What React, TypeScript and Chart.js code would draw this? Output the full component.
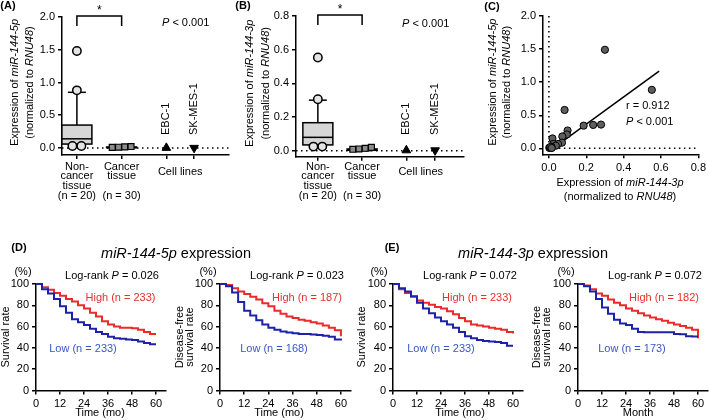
import React, { useEffect, useRef } from 'react';
import { Chart, registerables } from 'chart.js';
Chart.register(...registerables);

const FONT = '"Liberation Sans", Arial, Helvetica, sans-serif';

// ---------------- data ----------------
// box statistics: [lower whisker, Q1, median, Q3, upper whisker]
const nonCancer5pBox = [0.04, 0.06, 0.14, 0.35, 0.85];
const nonCancer5pOutliers = [1.48, 0.88, 0.03, 0.03];
const cancer5pBox = [0.0, 0.004, 0.008, 0.015, 0.025];
const cancer5pPoints = [0.01, 0.012, 0.016, 0.022];
const cellLine5p = [0.002, 0.002];
const yTicks5p = [0, 0.5, 1, 1.5, 2];

const nonCancer3pBox = [0.028, 0.034, 0.079, 0.166, 0.3];
const nonCancer3pOutliers = [0.553, 0.305, 0.024, 0.024];
const cancer3pBox = [0.0, 0.002, 0.005, 0.01, 0.015];
const cancer3pPoints = [0.008, 0.01, 0.014, 0.02];
const cellLine3p = [0.002, 0.002];
const yTicks3p = [0, 0.2, 0.4, 0.6, 0.8];

const tissueLabelLines = [
  ['Non-', 'cancer', 'tissue', '(n = 20)'],
  ['Cancer', 'tissue', '', '(n = 30)'],
];
const cellLineNames = ['EBC-1', 'SK-MES-1'];
const cellLinesLabel = 'Cell lines';
const groupPValue = '< 0.001';

// correlation (C)
const corrX3p = [0.3, 0.551, 0.084, 0.186, 0.237, 0.279, 0.1, 0.096, 0.072, 0.07, 0.049, 0.019, 0.023, 0.002, 0.037, 0.014, 0.005, 0.01, 0.008, 0.015];
const corrY5p = [1.49, 0.884, 0.58, 0.343, 0.354, 0.359, 0.27, 0.21, 0.18, 0.086, 0.066, 0.15, 0.066, 0.01, 0.04, 0.025, 0.005, 0.01, 0.02, 0.005];
const corrR = '0.912';
const corrP = '< 0.001';
const regSlope = 2.05;
const regIntercept = -0.044;
const regRangeX = [0.02, 0.59];
const xTicksCorr = [0, 0.2, 0.4, 0.6, 0.8];

// Kaplan-Meier (D, E)
const kmMonths = [0, 3, 6, 9, 12, 15, 18, 21, 24, 27, 30, 33, 36, 39, 42, 45, 48, 51, 54, 57, 60];
const dOsHigh = [100, 97, 94.5, 91.5, 89, 86, 83.5, 80, 77, 73, 69.5, 65, 62, 60, 59, 59, 58.5, 57, 55, 53, 53];
const dOsLow = [100, 95, 91, 86, 79, 73, 67, 64, 61.5, 58, 55, 53, 50.5, 49, 48.5, 48, 47.5, 46, 44.5, 43.5, 43.5];
const dDfsHigh = [100, 99, 96, 93, 90.5, 88, 85.5, 82, 79, 75, 72, 69.5, 68, 66.5, 65.5, 64, 63, 61, 59, 56.5, 51];
const dDfsLow = [100, 98, 92, 83, 75, 70.5, 66, 62, 59, 57, 55.5, 54.5, 53.8, 53, 53, 52.5, 52, 51.5, 50.5, 48, 47];
const eOsHigh = [100, 95, 91.5, 88, 84.5, 82.5, 80.5, 78.5, 77, 74.5, 71.5, 68, 65, 62, 61, 60, 59, 58, 57, 55, 53.5];
const eOsLow = [100, 96, 93, 88.5, 82.5, 77, 72.5, 68.5, 65, 62, 59, 55, 51, 49, 47.5, 46.5, 46, 45.5, 44.5, 42, 42];
const eDfsHigh = [100, 98.5, 95, 91, 89, 85.5, 82.5, 80, 77, 75, 72.5, 70.5, 68.5, 67, 65.5, 63.5, 62, 60.5, 59, 57, 49];
const eDfsLow = [100, 98, 93, 86, 78, 72, 66.5, 63, 61.5, 58, 55, 54.7, 54.7, 54.7, 54.7, 54.7, 53, 52.8, 51, 50.6, 50.6];
const kmLogRankP = ['0.026', '0.023', '0.072', '0.072'];
const kmHighN = [233, 187, 233, 182];
const kmLowN = [233, 168, 233, 173];
const kmXTicks = [0, 12, 24, 36, 48, 60];
const kmYTicks = [0, 20, 40, 60, 80, 100];

// ---------------- styling ----------------
const RED = '#ec2a2a';
const BLUE = '#1d22a8';
const RED_TEXT = '#e5302c';
const BLUE_TEXT = '#3657c6';

type Seg = [string, boolean];

function drawRich(ctx: any, segs: Seg[], x: number, y: number, o: any = {}) {
  const size = o.size ?? 11;
  ctx.save();
  ctx.translate(x, y);
  if (o.rotate) ctx.rotate(-Math.PI / 2);
  ctx.textBaseline = 'middle';
  ctx.textAlign = 'left';
  ctx.fillStyle = o.color ?? '#000';
  const font = (it: boolean) => `${it ? 'italic ' : ''}${o.bold ? 'bold ' : ''}${size}px ${FONT}`;
  let total = 0;
  const widths = segs.map(([t, it]) => {
    ctx.font = font(it);
    const w = ctx.measureText(t).width;
    total += w;
    return w;
  });
  let cx = o.align === 'center' ? -total / 2 : o.align === 'right' ? -total : 0;
  segs.forEach(([t, it], i) => {
    ctx.font = font(it);
    ctx.fillText(t, cx, 0);
    cx += widths[i];
  });
  ctx.restore();
}

function axis(min: number, max: number, vals: number[], fit: (s: any) => void, fmt?: (v: any) => string, showLabels = true) {
  return {
    type: 'linear',
    min,
    max,
    bounds: 'data',
    border: { display: true, color: '#000', width: 1.5 },
    grid: { display: true, drawOnChartArea: false, drawTicks: true, tickLength: 4, color: '#000', lineWidth: 1.5 },
    ticks: {
      display: showLabels,
      color: '#000',
      font: { family: FONT, size: 11 },
      padding: 3,
      autoSkip: false,
      maxRotation: 0,
      callback: fmt ?? ((v: any) => String(v)),
    },
    afterBuildTicks: (s: any) => {
      s.ticks = vals.map((v) => ({ value: v }));
    },
    afterFit: fit,
  };
}

function spreadOffsets(vals: number[], tol: number, spacing: number) {
  const offs = new Array(vals.length).fill(0);
  const used = new Array(vals.length).fill(false);
  for (let i = 0; i < vals.length; i++) {
    if (used[i]) continue;
    const cl = [i];
    used[i] = true;
    for (let j = i + 1; j < vals.length; j++) {
      if (!used[j] && Math.abs(vals[j] - vals[i]) <= tol) {
        cl.push(j);
        used[j] = true;
      }
    }
    cl.forEach((k, idx) => {
      offs[k] = (idx - (cl.length - 1) / 2) * spacing;
    });
  }
  return offs;
}

function line(ctx: any, x1: number, y1: number, x2: number, y2: number) {
  ctx.beginPath();
  ctx.moveTo(x1, y1);
  ctx.lineTo(x2, y2);
  ctx.stroke();
}

const baseOptions = {
  animation: false,
  responsive: false,
  events: [],
};

function boxChartConfig(p: any) {
  const catX = p.catX;
  const tol = (p.yMax - p.yMin) * 0.02;
  const o1 = spreadOffsets(p.outliers, tol, 0.2);
  const o2 = spreadOffsets(p.points, tol, 0.14);
  const ptBase = { clip: false, showLine: false, pointBorderColor: '#000', pointBorderWidth: 1.5 };
  return {
    type: 'scatter',
    data: {
      datasets: [
        { ...ptBase, data: p.outliers.map((v: number, i: number) => ({ x: catX[0] + o1[i], y: v })), pointStyle: 'circle', pointRadius: 4.2, pointBackgroundColor: '#e4e4e4' },
        { ...ptBase, data: p.points.map((v: number, i: number) => ({ x: catX[1] + o2[i], y: v })), pointStyle: 'rect', pointRadius: 4.2, pointBorderWidth: 1.2, pointBackgroundColor: '#8c8c8c' },
        { ...ptBase, data: [{ x: catX[2], y: p.cells[0] }], pointStyle: 'triangle', pointRadius: 5, pointBorderWidth: 1, pointBackgroundColor: '#000' },
        { ...ptBase, data: [{ x: catX[3], y: p.cells[1] }], pointStyle: 'triangle', pointRotation: 180, pointRadius: 5, pointBorderWidth: 1, pointBackgroundColor: '#000' },
      ],
    },
    options: {
      ...baseOptions,
      layout: { padding: { left: 0, top: p.padTop, right: p.padRight, bottom: 0 } },
      plugins: { legend: { display: false }, tooltip: { enabled: false } },
      scales: {
        x: axis(p.xMin, p.xMax, catX, (s: any) => { s.height = p.xAxisH; }, undefined, false),
        y: axis(p.yMin, p.yMax, p.yTicks, (s: any) => { s.width = p.yAxisW; }, (v: any) => Number(v).toFixed(1)),
      },
    },
    plugins: [
      {
        id: 'boxes',
        beforeDatasetsDraw(chart: any) {
          const { ctx, chartArea, scales } = chart;
          const x = scales.x;
          const y = scales.y;
          ctx.save();
          // dotted zero line
          ctx.strokeStyle = '#000';
          ctx.lineWidth = 1.5;
          ctx.setLineDash([1.5, 3.5]);
          line(ctx, chartArea.left, y.getPixelForValue(0), chartArea.right, y.getPixelForValue(0));
          ctx.setLineDash([]);
          [p.box1, p.box2].forEach((st: number[], gi: number) => {
            const cx = x.getPixelForValue(catX[gi]);
            const [lo, q1, med, q3, hi] = st.map((v) => y.getPixelForValue(v));
            ctx.lineWidth = 1.5;
            line(ctx, cx, q3, cx, hi);
            line(ctx, cx - 9, hi, cx + 9, hi);
            line(ctx, cx, q1, cx, lo);
            line(ctx, cx - 9, lo, cx + 9, lo);
            ctx.fillStyle = '#d6d6d6';
            ctx.fillRect(cx - 15, q3, 30, q1 - q3);
            ctx.strokeRect(cx - 15, q3, 30, q1 - q3);
            line(ctx, cx - 15, med, cx + 15, med);
          });
          ctx.restore();
        },
        afterDraw(chart: any) {
          const { ctx, chartArea, scales } = chart;
          const x = scales.x;
          const y = scales.y;
          drawRich(ctx, [[p.letter, false]], p.letterX, 6, { bold: true, align: 'center' });
          const cy = (chartArea.top + y.getPixelForValue(0)) / 2;
          drawRich(ctx, [['Expression of ', false], [p.gene, true]], p.titleX1, cy, { rotate: true, align: 'center' });
          drawRich(ctx, [['(normalized to ', false], ['RNU48', true], [')', false]], p.titleX2, cy, { rotate: true, align: 'center' });
          // significance bracket
          const bx1 = x.getPixelForValue(catX[0]);
          const bx2 = x.getPixelForValue(catX[1]);
          const top = chartArea.top - 1;
          ctx.save();
          ctx.strokeStyle = '#000';
          ctx.lineWidth = 1.5;
          ctx.beginPath();
          ctx.moveTo(bx1, top + 10);
          ctx.lineTo(bx1, top);
          ctx.lineTo(bx2, top);
          ctx.lineTo(bx2, top + 10);
          ctx.stroke();
          ctx.restore();
          drawRich(ctx, [['*', false]], (bx1 + bx2) / 2, top - 5, { align: 'center', size: 12 });
          drawRich(ctx, [['P', true], [' ' + groupPValue, false]], p.pX, p.pY, {});
          // category labels
          const lineYs = [166.5, 176, 185.5, 196];
          tissueLabelLines.forEach((lines, gi) => {
            const cx = x.getPixelForValue(catX[gi]);
            lines.forEach((t, li) => {
              if (t) drawRich(ctx, [[t, false]], cx, lineYs[li], { align: 'center' });
            });
          });
          const c1 = x.getPixelForValue(catX[2]);
          const c2 = x.getPixelForValue(catX[3]);
          drawRich(ctx, [[cellLinesLabel, false]], (c1 + c2) / 2, 171.5, { align: 'center' });
          drawRich(ctx, [[cellLineNames[0], false]], c1, 135, { rotate: true });
          drawRich(ctx, [[cellLineNames[1], false]], c2, 135, { rotate: true });
        },
      },
    ],
  };
}

const makeA = () =>
  boxChartConfig({
    box1: nonCancer5pBox, outliers: nonCancer5pOutliers, box2: cancer5pBox, points: cancer5pPoints, cells: cellLine5p,
    yTicks: yTicks5p, yMin: -0.107, yMax: 2, xMin: 0.667, xMax: 4.4, catX: [1, 2, 3, 3.62],
    yAxisW: 62, padTop: 17, padRight: 5, xAxisH: 50,
    gene: 'miR-144-5p', letter: '(A)', letterX: 8, titleX1: 15, titleX2: 30, pX: 162, pY: 23,
  });

const makeB = () =>
  boxChartConfig({
    box1: nonCancer3pBox, outliers: nonCancer3pOutliers, box2: cancer3pBox, points: cancer3pPoints, cells: cellLine3p,
    yTicks: yTicks3p, yMin: -0.036, yMax: 0.8, xMin: 0.506, xMax: 4.303, catX: [1, 2, 3, 3.65],
    yAxisW: 61, padTop: 16, padRight: 5, xAxisH: 48.3,
    gene: 'miR-144-3p', letter: '(B)', letterX: 8, titleX1: 15, titleX2: 31, pX: 167, pY: 24,
  });

const makeC = () => ({
  type: 'scatter',
  data: {
    datasets: [
      {
        data: corrX3p.map((v, i) => ({ x: v, y: corrY5p[i] })),
        pointRadius: 3.6,
        pointBackgroundColor: '#5e5e5e',
        pointBorderColor: '#000',
        pointBorderWidth: 1,
        clip: false,
      },
      {
        data: regRangeX.map((v) => ({ x: v, y: regIntercept + regSlope * v })),
        showLine: true,
        pointRadius: 0,
        borderColor: '#000',
        borderWidth: 1.5,
        clip: false,
      },
    ],
  },
  options: {
    ...baseOptions,
    layout: { padding: { left: 0, top: 16, right: 8, bottom: 0 } },
    plugins: { legend: { display: false }, tooltip: { enabled: false } },
    scales: {
      x: axis(-0.0316, 0.8, xTicksCorr, (s: any) => { s.height = 50.7; }, (v: any) => Number(v).toFixed(1)),
      y: axis(-0.09, 2, yTicks5p, (s: any) => { s.width = 73; }, (v: any) => Number(v).toFixed(1)),
    },
  },
  plugins: [
    {
      id: 'corrDeco',
      beforeDatasetsDraw(chart: any) {
        const { ctx, chartArea, scales } = chart;
        const x0 = scales.x.getPixelForValue(0);
        const y0 = scales.y.getPixelForValue(0);
        ctx.save();
        ctx.strokeStyle = '#000';
        ctx.lineWidth = 1.5;
        ctx.setLineDash([1.5, 3.5]);
        line(ctx, x0, chartArea.top, x0, y0);
        line(ctx, x0, y0, chartArea.right, y0);
        ctx.restore();
      },
      afterDraw(chart: any) {
        const { ctx, chartArea, scales } = chart;
        drawRich(ctx, [['(C)', false]], 22, 7, { bold: true, align: 'center' });
        const cy = (chartArea.top + scales.y.getPixelForValue(0)) / 2;
        drawRich(ctx, [['Expression of ', false], ['miR-144-5p', true]], 23, cy, { rotate: true, align: 'center' });
        drawRich(ctx, [['(normalized to ', false], ['RNU48', true], [')', false]], 37, cy, { rotate: true, align: 'center' });
        drawRich(ctx, [['r = ' + corrR, false]], 156, 106, {});
        drawRich(ctx, [['P', true], [' ' + corrP, false]], 156, 122, {});
        drawRich(ctx, [['Expression of ', false], ['miR-144-3p', true]], 150, 182.7, { align: 'center' });
        drawRich(ctx, [['(normalized to ', false], ['RNU48', true], [')', false]], 150, 196.7, { align: 'center' });
      },
    },
  ],
});

function kmConfig(p: any) {
  const mk = (arr: number[]) => kmMonths.map((m, i) => ({ x: m, y: arr[i] }));
  return {
    type: 'line',
    data: {
      datasets: [
        { data: mk(p.low), borderColor: BLUE, borderWidth: 2, stepped: true, pointRadius: 0, fill: false, clip: false },
        { data: mk(p.high), borderColor: RED, borderWidth: 2, stepped: true, pointRadius: 0, fill: false, clip: false },
      ],
    },
    options: {
      ...baseOptions,
      layout: { padding: { left: 0, top: 84, right: p.w - p.yAxisW - p.chartW, bottom: 0 } },
      plugins: { legend: { display: false }, tooltip: { enabled: false } },
      scales: {
        x: axis(0, 65, kmXTicks, (s: any) => { s.height = 29.5; }),
        y: axis(0, 100, kmYTicks, (s: any) => { s.width = p.yAxisW; }),
      },
    },
    plugins: [
      {
        id: 'kmText',
        afterDraw(chart: any) {
          const ctx = chart.ctx;
          const i = p.idx;
          if (p.letter) drawRich(ctx, [[p.letter, false]], p.letterX, 48, { bold: true, align: 'center' });
          drawRich(ctx, [['(%)', false]], p.pctX, 72, { align: 'center' });
          drawRich(ctx, [['Log-rank ', false], ['P', true], [' = ' + kmLogRankP[i], false]], p.lrX, 76, { align: 'center' });
          drawRich(ctx, [[`High (n = ${kmHighN[i]})`, false]], p.hiX, 98, { align: 'center', color: RED_TEXT });
          drawRich(ctx, [[`Low (n = ${kmLowN[i]})`, false]], p.loX, 149, { align: 'center', color: BLUE_TEXT });
          p.yTitle.forEach((t: string, k: number) => {
            drawRich(ctx, [[t, false]], p.yTitleX[k], 137, { rotate: true, align: 'center' });
          });
          drawRich(ctx, [[p.xTitle, false]], p.xTitleX, 213, { align: 'center' });
        },
      },
    ],
  };
}

const kmPanels = [
  { idx: 0, left: 0, w: 175, yAxisW: 36, chartW: 130, high: dOsHigh, low: dOsLow, letter: '(D)', letterX: 19, pctX: 23, lrX: 112, hiX: 120.5, loX: 83, yTitle: ['Survival rate'], yTitleX: [6], xTitle: 'Time (mo)', xTitleX: 100 },
  { idx: 1, left: 175, w: 185, yAxisW: 45, chartW: 131, high: dDfsHigh, low: dDfsLow, letter: '', letterX: 0, pctX: 33, lrX: 122, hiX: 132, loX: 99, yTitle: ['Disease-free', 'survival rate'], yTitleX: [5, 15], xTitle: 'Time (mo)', xTitleX: 104 },
  { idx: 2, left: 350, w: 180, yAxisW: 43, chartW: 130, high: eOsHigh, low: eOsLow, letter: '(E)', letterX: 42, pctX: 29, lrX: 120, hiX: 127, loX: 91, yTitle: ['Survival rate'], yTitleX: [12], xTitle: 'Time (mo)', xTitleX: 110 },
  { idx: 3, left: 530, w: 179, yAxisW: 48, chartW: 130, high: eDfsHigh, low: eDfsLow, letter: '', letterX: 0, pctX: 36, lrX: 125, hiX: 134, loX: 102, yTitle: ['Disease-free', 'survival rate'], yTitleX: [7, 17], xTitle: 'Month', xTitleX: 108 },
];

function ChartCanvas({ left, top, w, h, make }: any) {
  const ref = useRef<HTMLCanvasElement | null>(null);
  useEffect(() => {
    const chart = new Chart(ref.current as any, make() as any);
    return () => chart.destroy();
  }, []);
  return (
    <canvas
      ref={ref}
      width={w}
      height={h}
      style={{ position: 'absolute', left, top, width: w, height: h, pointerEvents: 'none' }}
    />
  );
}

const titleStyle: any = {
  position: 'absolute',
  top: 253,
  transform: 'translate(-50%, -50%)',
  fontSize: 14.5,
  lineHeight: 1,
  whiteSpace: 'nowrap',
  fontFamily: FONT,
  color: '#000',
};

export default function App() {
  return (
    <div style={{ position: 'absolute', left: 0, top: 0, width: 709, height: 420, background: '#fff', overflow: 'hidden' }}>
      <ChartCanvas left={0} top={0} w={235} h={205} make={makeA} />
      <ChartCanvas left={235} top={0} w={235} h={205} make={makeB} />
      <ChartCanvas left={470} top={0} w={239} h={205} make={makeC} />
      {kmPanels.map((p) => (
        <ChartCanvas key={p.idx} left={p.left} top={200} w={p.w} h={220} make={() => kmConfig(p)} />
      ))}
      <div style={{ ...titleStyle, left: 176 }}>
        <i>miR-144-5p</i> expression
      </div>
      <div style={{ ...titleStyle, left: 533 }}>
        <i>miR-144-3p</i> expression
      </div>
    </div>
  );
}
